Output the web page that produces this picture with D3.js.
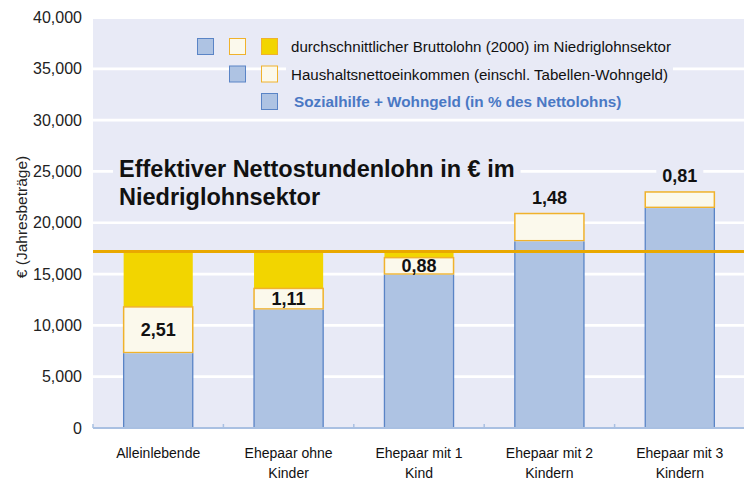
<!DOCTYPE html>
<html>
<head>
<meta charset="utf-8">
<script src="https://cdn.jsdelivr.net/npm/d3@7"></script>
<style>
  body { margin: 0; background: #fff; }
  svg { display: block; font-family: "Liberation Sans", Arial, sans-serif; }
</style>
</head>
<body>
<script>
// Data
const categories = ["Alleinlebende", "Ehepaar ohne Kinder", "Ehepaar mit 1 Kind", "Ehepaar mit 2 Kindern", "Ehepaar mit 3 Kindern"];
const categoryLines = [["Alleinlebende"], ["Ehepaar ohne", "Kinder"], ["Ehepaar mit 1", "Kind"], ["Ehepaar mit 2", "Kindern"], ["Ehepaar mit 3", "Kindern"]];
const sozialhilfe = [7350, 11600, 15000, 18250, 21500];
const nettoeinkommen = [11800, 13600, 16600, 20900, 23000];
const bruttolohn = 17200;
const stundenlohn = ["2,51", "1,11", "0,88", "1,48", "0,81"];
const yTicks = [0, 5000, 10000, 15000, 20000, 25000, 30000, 35000, 40000];

const colors = {
    plotBg: "#E8EAF6",
    grid: "#FFFFFF",
    blueFill: "#AEC3E3",
    blueStroke: "#5A84C6",
    lightFill: "#FBF9EC",
    lightStroke: "#F0B22C",
    yellow: "#F2D500",
    line: "#E9A800",
    axis: "#A9C0E2",
    legendBlue: "#4A78C4"
};

const width = 744, height = 482;
const margin = { top: 17, right: 0, bottom: 54, left: 93 };

const svg = d3.select("body").append("svg")
    .attr("width", width)
    .attr("height", height);

const x = d3.scaleBand()
    .domain(categories)
    .range([margin.left, width - margin.right + 1])
    .paddingInner(0.47)
    .paddingOuter(0.235);

const y = d3.scaleLinear()
    .domain([0, 40000])
    .range([height - margin.bottom, margin.top + 0.5]);

// plot background
svg.append("rect")
    .attr("x", margin.left)
    .attr("y", y(40000) + 1.5)
    .attr("width", width - margin.left)
    .attr("height", y(0) - y(40000) - 1.5)
    .attr("fill", colors.plotBg);

// gridlines
svg.append("g")
    .selectAll("line")
    .data(yTicks.filter(d => d > 0 && d < 40000))
    .join("line")
    .attr("x1", margin.left)
    .attr("x2", width)
    .attr("y1", d => y(d))
    .attr("y2", d => y(d))
    .attr("stroke", colors.grid)
    .attr("stroke-width", 2.7);

// y axis labels
const yAxis = d3.axisLeft(y)
    .tickValues(yTicks)
    .tickSize(0)
    .tickPadding(11)
    .tickFormat(d3.format(","));

svg.append("g")
    .attr("transform", `translate(${margin.left}, 0)`)
    .call(yAxis)
    .call(g => g.select(".domain").remove())
    .selectAll("text")
    .attr("font-size", 16)
    .attr("font-family", "Liberation Sans, Arial, sans-serif")
    .attr("fill", "#222");

svg.append("text")
    .attr("transform", `translate(27, 217) rotate(-90)`)
    .attr("text-anchor", "middle")
    .attr("font-size", 15.5)
    .attr("fill", "#222")
    .text("€ (Jahresbeträge)");

// bars
const bars = svg.append("g").selectAll("g")
    .data(categories)
    .join("g");

// yellow part: from netto up to brutto (only where netto < brutto)
bars.filter((d, i) => nettoeinkommen[i] < bruttolohn)
    .append("rect")
    .attr("x", d => x(d))
    .attr("width", x.bandwidth())
    .attr("y", y(bruttolohn))
    .attr("height", d => y(nettoeinkommen[categories.indexOf(d)]) - y(bruttolohn))
    .attr("fill", colors.yellow);

// light part: netto household income above sozialhilfe
bars.append("rect")
    .attr("x", d => x(d))
    .attr("width", x.bandwidth())
    .attr("y", (d, i) => y(nettoeinkommen[i]))
    .attr("height", (d, i) => y(sozialhilfe[i]) - y(nettoeinkommen[i]))
    .attr("fill", colors.lightFill)
    .attr("stroke", colors.lightStroke)
    .attr("stroke-width", 1.5);

// blue part: sozialhilfe + wohngeld
bars.append("rect")
    .attr("x", d => x(d))
    .attr("width", x.bandwidth())
    .attr("y", (d, i) => y(sozialhilfe[i]) + 0.75)
    .attr("height", (d, i) => y(0) - y(sozialhilfe[i]) - 0.75)
    .attr("fill", colors.blueFill);

bars.append("path")
    .attr("d", (d, i) => {
        const x0 = x(d), x1 = x(d) + x.bandwidth();
        return `M${x0},${y(0)}V${y(sozialhilfe[i]) + 0.75}M${x1},${y(0)}V${y(sozialhilfe[i]) + 0.75}`;
    })
    .attr("stroke", colors.blueStroke)
    .attr("stroke-width", 1.3)
    .attr("fill", "none");

// brutto line
svg.append("line")
    .attr("x1", margin.left)
    .attr("x2", width)
    .attr("y1", y(bruttolohn))
    .attr("y2", y(bruttolohn))
    .attr("stroke", colors.line)
    .attr("stroke-width", 3);

// x axis
const xAxisY = y(0);
svg.append("line")
    .attr("x1", margin.left)
    .attr("x2", width)
    .attr("y1", xAxisY)
    .attr("y2", xAxisY)
    .attr("stroke", colors.axis)
    .attr("stroke-width", 2);

const step = x.step();
const boundaries = d3.range(categories.length + 1).map(i => x(categories[0]) - step * x.paddingOuter() + i * step);
svg.append("g").selectAll("line")
    .data(boundaries)
    .join("line")
    .attr("x1", d => d)
    .attr("x2", d => d)
    .attr("y1", xAxisY)
    .attr("y2", xAxisY - 4)
    .attr("stroke", colors.axis)
    .attr("stroke-width", 1.5);

svg.append("g").selectAll("text")
    .data(categories)
    .join("text")
    .attr("x", d => x(d) + x.bandwidth() / 2)
    .attr("y", 458)
    .attr("text-anchor", "middle")
    .attr("font-size", 14)
    .attr("fill", "#111")
    .each(function (d, i) {
        const t = d3.select(this);
        categoryLines[i].forEach((line, j) => {
            t.append("tspan")
                .attr("x", x(d) + x.bandwidth() / 2)
                .attr("dy", j === 0 ? 0 : 20)
                .text(line);
        });
    });

// helper: text with a background box in plot colour
function labelWithBg(parent, text, px, py, opts) {
    const g = parent.append("g");
    const bg = g.append("rect").attr("fill", colors.plotBg);
    const t = g.append("text")
        .attr("x", px)
        .attr("y", py)
        .attr("text-anchor", opts.anchor || "start")
        .attr("font-size", opts.size)
        .attr("font-weight", opts.weight || "normal")
        .attr("fill", opts.color || "#111")
        .text(text);
    const b = t.node().getBBox();
    const pad = opts.pad == null ? 4 : opts.pad;
    bg.attr("x", b.x - pad).attr("y", b.y).attr("width", b.width + 2 * pad).attr("height", b.height);
    return g;
}

// value labels
const labelLayer = svg.append("g");
categories.forEach((c, i) => {
    const cx = x(c) + x.bandwidth() / 2;
    if (nettoeinkommen[i] < bruttolohn) {
        const cy = (y(nettoeinkommen[i]) + y(sozialhilfe[i])) / 2;
        labelLayer.append("text")
            .attr("x", cx)
            .attr("y", cy + 6.5)
            .attr("text-anchor", "middle")
            .attr("font-size", 18)
            .attr("font-weight", "bold")
            .attr("fill", "#111")
            .text(stundenlohn[i]);
    } else {
        const cy = y(nettoeinkommen[i]) - 16;
        labelWithBg(labelLayer, stundenlohn[i], cx, cy + 6.5, { anchor: "middle", size: 18, weight: "bold", pad: 6 });
    }
});

// title inside plot
const titleG = svg.append("g");
labelWithBg(titleG, "Effektiver Nettostundenlohn in € im", 119, 177, { size: 23.5, weight: "bold", pad: 6 });
labelWithBg(titleG, "Niedriglohnsektor", 119, 205, { size: 23.5, weight: "bold", pad: 6 });

// legend
const legend = svg.append("g");
const sq = 17;
const legendCols = [197, 229, 261];
const legendRows = [
    { y: 47, swatches: ["blue", "light", "yellow"], cols: [0, 1, 2], text: "durchschnittlicher Bruttolohn (2000) im Niedriglohnsektor", bold: false },
    { y: 74.5, swatches: ["blue", "light"], cols: [1, 2], text: "Haushaltsnettoeinkommen (einschl. Tabellen-Wohngeld)", bold: false },
    { y: 102, swatches: ["blue"], cols: [2], text: "Sozialhilfe + Wohngeld (in % des Nettolohns)", bold: true }
];
const swatchStyle = {
    blue: [colors.blueFill, colors.blueStroke],
    light: [colors.lightFill, colors.lightStroke],
    yellow: [colors.yellow, colors.lightStroke]
};
legendRows.forEach(row => {
    labelWithBg(legend, row.text, row.bold ? 294 : 291, row.y + 5.3, {
        size: row.bold ? 15.3 : 15.1,
        weight: row.bold ? "bold" : "normal",
        color: row.bold ? colors.legendBlue : "#111",
        pad: 5
    });
    row.swatches.forEach((s, k) => {
        legend.append("rect")
            .attr("x", legendCols[row.cols[k]] + 0.5)
            .attr("y", row.y - sq / 2)
            .attr("width", sq - 1)
            .attr("height", sq - 1)
            .attr("fill", swatchStyle[s][0])
            .attr("stroke", swatchStyle[s][1])
            .attr("stroke-width", 1);
    });
});
</script>
</body>
</html>
